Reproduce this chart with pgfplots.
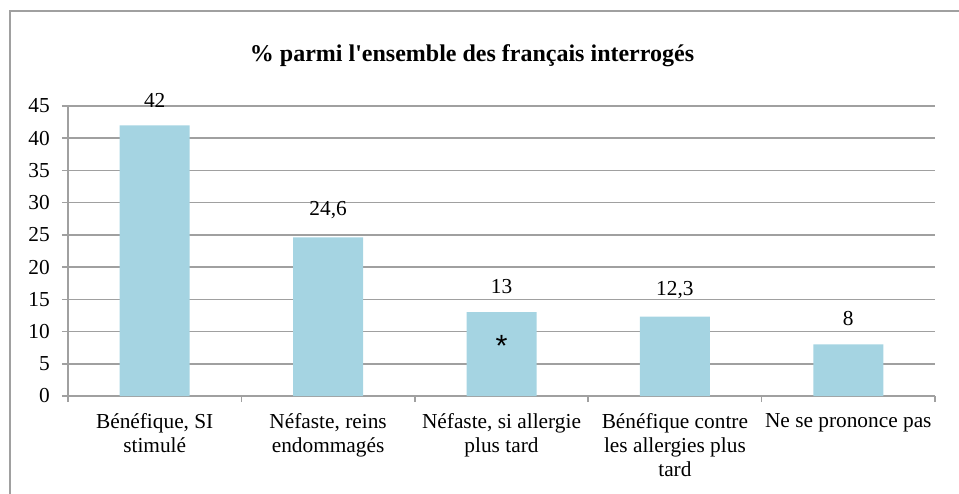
\documentclass[border=0pt]{standalone}
\usepackage{fontspec}
\setmainfont{Liberation Serif}
\setsansfont{Liberation Sans}
\newfontfamily\titlefont{Liberation Serif}[Ligatures=TeXOff]
\usepackage{pgfplots}
\pgfplotsset{compat=1.18}
\definecolor{barblue}{RGB}{165,212,226}
\definecolor{gridgray}{RGB}{160,160,160}
\begin{document}
\begin{tikzpicture}
\useasboundingbox (0,0) rectangle (719.25pt,-369.75pt);
\draw[gridgray, line width=1.5pt] (7.5pt,-8.25pt) rectangle (730pt,-380pt);
\node[font=\fontsize{18}{20}\selectfont\titlefont\bfseries] at (354pt,-41.5pt) {\% parmi l'ensemble des français interrogés};
\begin{axis}[
  at={(51pt,-297pt)}, anchor=south west,
  scale only axis, width=650.25pt, height=217.5pt,
  xmin=-0.5, xmax=4.5, ymin=0, ymax=45,
  ytick={0,5,...,45},
  ymajorgrids, grid style={gridgray, line width=1.2pt},
  axis x line*=bottom, axis y line*=left,
  axis line style={gridgray, line width=1.2pt},
  tick style={gridgray, line width=1.2pt},
  tick align=outside, major tick length=4.5pt,
  xtick={-0.5,0.5,1.5,2.5,3.5,4.5}, xticklabels={,,,,,},
  extra x ticks={0,1,2,3,4},
  extra x tick labels={{Bénéfique, SI\\stimulé},{Néfaste, reins\\endommagés},{Néfaste, si allergie\\plus tard},{Bénéfique contre\\les allergies plus\\tard},{Ne se prononce pas}},
  extra x tick style={major tick length=0pt},
  xticklabel style={align=center, anchor=north, inner sep=0pt, yshift=-13pt, font=\fontsize{16}{18}\selectfont},
  yticklabel style={anchor=east, inner sep=0pt, xshift=-9pt, font=\fontsize{16}{18}\selectfont},
  /pgf/number format/assume math mode=true,
  clip=false,
]
\addplot[ybar, bar width=52.5pt, fill=barblue, draw=none,
  nodes near coords, point meta=explicit symbolic,
  nodes near coords style={anchor=south, inner sep=0pt, yshift=13.5pt, text=black, font=\fontsize{16}{18}\selectfont}]
  table[meta=lab] {
x y lab
0 42 42
1 24.6 24,6
2 13 13
3 12.3 12,3
4 8 8
};
\node[font=\fontsize{23}{23}\selectfont\sffamily, anchor=base, inner sep=0pt] at (axis cs:2,6.1) {*};
\end{axis}
\end{tikzpicture}
\end{document}
